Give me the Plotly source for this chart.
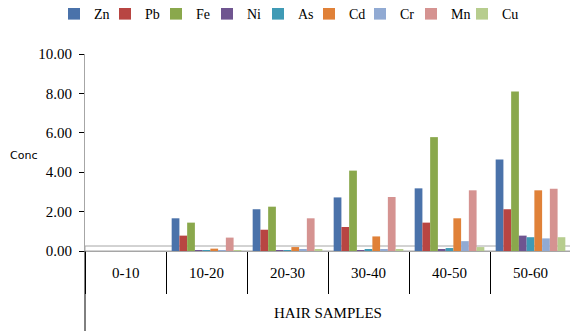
import plotly.graph_objects as go

categories = ["0-10", "10-20", "20-30", "30-40", "40-50", "50-60"]
elements = ["Zn", "Pb", "Fe", "Ni", "As", "Cd", "Cr", "Mn", "Cu"]

Zn = [0.00, 1.66, 2.12, 2.72, 3.18, 4.65]
Pb = [0.00, 0.78, 1.08, 1.22, 1.44, 2.12]
Fe = [0.00, 1.44, 2.25, 4.08, 5.78, 8.10]
Ni = [0.00, 0.02, 0.03, 0.05, 0.06, 0.78]
As = [0.00, 0.02, 0.05, 0.10, 0.15, 0.70]
Cd = [0.00, 0.12, 0.20, 0.74, 1.66, 3.08]
Cr = [0.00, 0.05, 0.10, 0.06, 0.50, 0.64]
Mn = [0.00, 0.68, 1.66, 2.74, 3.08, 3.16]
Cu = [0.00, 0.05, 0.10, 0.10, 0.20, 0.70]

series = [Zn, Pb, Fe, Ni, As, Cd, Cr, Mn, Cu]
colors = ["#4a72aa", "#b84542", "#8aa84c", "#6f5590", "#3f9ab5",
          "#e08138", "#91aad3", "#d59391", "#b7cd8e"]

# page body has an 8px margin, so the figure is drawn 8px in from the window edge
W, H = 570, 326
ml, mr, mt, mb = 77, 7, 46, 83
ph = H - mt - mb
pw = W - ml - mr

leg_x0 = -31
leg_step = 51

fig = go.Figure()
legends = {}
for i, (name, vals, col) in enumerate(zip(elements, series, colors)):
    key = "legend" if i == 0 else f"legend{i + 1}"
    fig.add_trace(go.Bar(x=categories, y=vals, name=name, legend=key,
                         marker=dict(color=col, line=dict(width=0))))
    legends[key] = dict(orientation="h", xanchor="left",
                        x=(leg_x0 + i * leg_step) / pw,
                        y=1 + 40 / ph, yanchor="middle",
                        font=dict(family="Liberation Serif", size=14, color="black"),
                        itemwidth=30, bgcolor="rgba(0,0,0,0)")

fig.update_layout(
    width=W, height=H,
    margin=dict(l=ml, r=mr, t=mt, b=mb, autoexpand=False),
    paper_bgcolor="white", plot_bgcolor="white",
    barmode="group", bargap=0.14, bargroupgap=0.0,
    font=dict(family="Liberation Serif", size=15, color="black"),
    showlegend=True,
    **legends,
)

fig.update_yaxes(range=[0, 10], dtick=2, tickformat=".2f",
                 showgrid=False, zeroline=False,
                 showline=True, linecolor="#a6a6a6", linewidth=1,
                 ticks="outside", ticklen=5, tickcolor="black",
                 ticklabelstandoff=4,
                 tickfont=dict(family="Liberation Serif", size=15, color="black"))

fig.update_xaxes(type="category", showgrid=False, zeroline=False,
                 showline=True, linecolor="#a6a6a6",
                 ticks="outside", tickson="boundaries", ticklen=42,
                 tickcolor="black", showticklabels=False)

# floor of the 3D look
fig.add_shape(type="rect", xref="x domain", yref="paper",
              x0=0, x1=1.01, y0=0, y1=5 / ph, layer="below",
              line=dict(color="#a6a6a6", width=1), fillcolor="white")

# outer group lines at both ends
for xd in (0, 1):
    fig.add_shape(type="line", xref="x domain", yref="paper",
                  x0=xd, x1=xd, y0=0, y1=-80 / ph,
                  line=dict(color="black", width=1))

for c in categories:
    fig.add_annotation(x=c, y=-22 / ph, xref="x", yref="paper",
                       text=c, showarrow=False,
                       font=dict(family="Liberation Serif", size=15, color="black"),
                       yanchor="middle")

fig.add_annotation(x=0.5, y=-62 / ph, xref="x domain", yref="paper",
                   text="HAIR SAMPLES", showarrow=False,
                   font=dict(family="Liberation Serif", size=15, color="black"),
                   yanchor="middle")

fig.add_annotation(x=0, y=0.5 - (147 - (mt + ph / 2)) / ph, xref="paper", yref="paper",
                   xshift=-ml, text="Conc", showarrow=False, xanchor="left",
                   font=dict(family="DejaVu Sans", size=11, color="black"),
                   yanchor="middle")

fig.write_html("out.html")
